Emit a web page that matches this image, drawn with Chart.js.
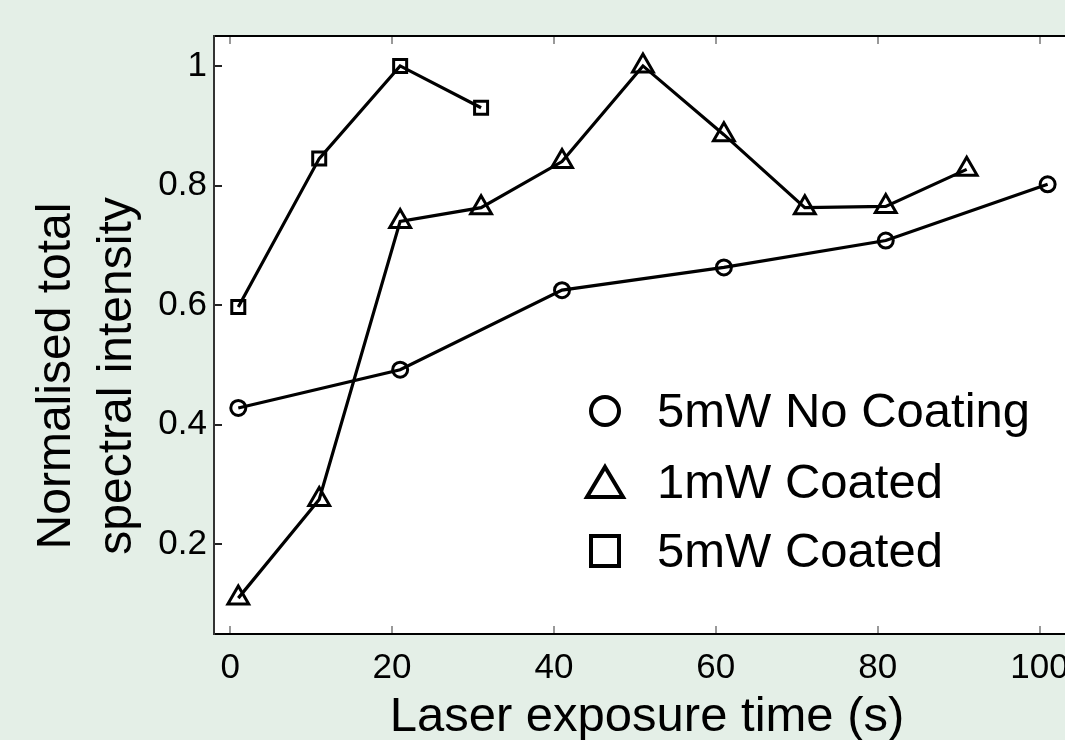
<!DOCTYPE html>
<html>
<head>
<meta charset="utf-8">
<script src="https://cdn.jsdelivr.net/npm/chart.js@4"></script>
<style>
  html, body { margin: 0; padding: 0; background: #e4efe7; overflow: hidden; }
  #wrap { width: 1090px; height: 740px; }
</style>
</head>
<body>
<div id="wrap"><canvas id="chart" width="1090" height="740"></canvas></div>
<script>
// tick values
const xTicks = [0, 20, 40, 60, 80, 100];
const yTicks = [0.2, 0.4, 0.6, 0.8, 1];

// 5mW No Coating
const noCoatTime = [1, 21, 41, 61, 81, 101];
const noCoatValue = [0.428, 0.492, 0.625, 0.663, 0.708, 0.802];

// 1mW Coated
const coated1Time = [1, 11, 21, 31, 41, 51, 61, 71, 81, 91];
const coated1Value = [0.11, 0.275, 0.74, 0.763, 0.84, 1.0, 0.885, 0.763, 0.765, 0.827];

// 5mW Coated
const coated5Time = [1, 11, 21, 31];
const coated5Value = [0.597, 0.845, 1.0, 0.93];

const seriesNames = ["5mW No Coating", "1mW Coated", "5mW Coated"];

const FONT = "'Liberation Sans', Arial, sans-serif";

function toPoints(xs, ys) {
  return xs.map((x, i) => ({ x: x, y: ys[i] }));
}

function makeSet(label, xs, ys, style, radius) {
  return {
    label: label,
    data: toPoints(xs, ys),
    borderColor: "#000",
    borderWidth: 3.2,
    pointStyle: style,
    pointRadius: radius,
    pointBorderWidth: 3,
    pointBorderColor: "#000",
    pointBackgroundColor: "rgba(0,0,0,0)",
    showLine: true,
    tension: 0
  };
}

// no extra side padding from the overflowing "100" label
function fixX(h) {
  return s => { s.height = h; s.paddingLeft = 0; s.paddingRight = 0; };
}

// white plot area
const plotBackground = {
  id: "plotBackground",
  beforeDraw(chart) {
    const a = chart.chartArea, ctx = chart.ctx;
    ctx.save();
    ctx.fillStyle = "#fff";
    ctx.fillRect(a.left, a.top, a.right - a.left, a.bottom - a.top);
    ctx.restore();
  }
};

// two-line y title, drawn by hand so it sits where the original does
const yTitle = {
  id: "yTitle",
  afterDraw(chart) {
    const ctx = chart.ctx;
    const lines = [["Normalised total", 70], ["spectral intensity", 131]];
    ctx.save();
    ctx.fillStyle = "#000";
    ctx.font = "48px " + FONT;
    ctx.textAlign = "center";
    ctx.textBaseline = "alphabetic";
    lines.forEach(l => {
      ctx.save();
      ctx.translate(l[1], 376);
      ctx.rotate(-Math.PI / 2);
      ctx.fillText(l[0], 0, 0);
      ctx.restore();
    });
    ctx.restore();
  }
};

// legend inside the plot
const innerLegend = {
  id: "innerLegend",
  afterDraw(chart) {
    const ctx = chart.ctx;
    const mx = 605, tx = 657;
    const rows = [411, 482, 551];
    ctx.save();
    ctx.strokeStyle = "#000";
    ctx.lineWidth = 4;
    ctx.fillStyle = "#000";
    ctx.font = "49px " + FONT;
    ctx.textAlign = "left";
    ctx.textBaseline = "middle";
    chart.data.datasets.forEach((ds, i) => {
      const y = rows[i];
      ctx.beginPath();
      if (ds.pointStyle === "circle") {
        ctx.arc(mx, y, 14, 0, Math.PI * 2);
      } else if (ds.pointStyle === "triangle") {
        ctx.moveTo(mx, y - 15);
        ctx.lineTo(mx + 18, y + 15);
        ctx.lineTo(mx - 18, y + 15);
        ctx.closePath();
      } else {
        ctx.rect(mx - 14, y - 15, 28, 30);
      }
      ctx.stroke();
      ctx.fillText(ds.label, tx, y + 2);
    });
    ctx.restore();
  }
};

const ctx = document.getElementById("chart").getContext("2d");
new Chart(ctx, {
  type: "line",
  data: {
    datasets: [
      makeSet(seriesNames[0], noCoatTime, noCoatValue, "circle", 7.5),
      makeSet(seriesNames[1], coated1Time, coated1Value, "triangle", 12),
      makeSet(seriesNames[2], coated5Time, coated5Value, "rect", 9.2)
    ]
  },
  options: {
    responsive: false,
    animation: false,
    events: [],
    layout: { autoPadding: false, padding: { left: 0, right: 10, top: 0, bottom: 0 } },
    plugins: { legend: { display: false }, tooltip: { enabled: false } },
    scales: {
      x: {
        type: "linear",
        position: "bottom",
        min: -2,
        max: 105,
        afterBuildTicks: s => { s.ticks = xTicks.map(v => ({ value: v })); },
        afterFit: fixX(106),
        grid: { drawOnChartArea: false, tickLength: -8, color: "#999", lineWidth: 2 },
        border: { display: true, color: "#000", width: 2 },
        ticks: { color: "#000", font: { family: FONT, size: 35 }, padding: 21, maxRotation: 0 },
        title: {
          display: true,
          text: "Laser exposure time (s)",
          color: "#000",
          font: { family: FONT, size: 49 },
          padding: { top: 0, bottom: -7 }
        }
      },
      xTop: {
        type: "linear",
        position: "top",
        min: -2,
        max: 105,
        afterBuildTicks: s => { s.ticks = xTicks.map(v => ({ value: v })); },
        afterFit: fixX(36),
        grid: { drawOnChartArea: false, tickLength: -8, color: "#999", lineWidth: 2 },
        border: { display: true, color: "#000", width: 2 },
        ticks: { color: "rgba(0,0,0,0)" }
      },
      y: {
        type: "linear",
        position: "left",
        min: 0.05,
        max: 1.05,
        afterBuildTicks: s => { s.ticks = yTicks.map(v => ({ value: v })); },
        afterFit: s => { s.width = 214; },
        grid: { drawOnChartArea: false, tickLength: -8, color: "#222", lineWidth: 2 },
        border: { display: true, color: "#333", width: 2 },
        ticks: {
          color: "#000",
          font: { family: FONT, size: 35 },
          padding: 15,
          callback: v => String(v)
        }
      }
    }
  },
  plugins: [plotBackground, yTitle, innerLegend]
});
</script>
</body>
</html>
